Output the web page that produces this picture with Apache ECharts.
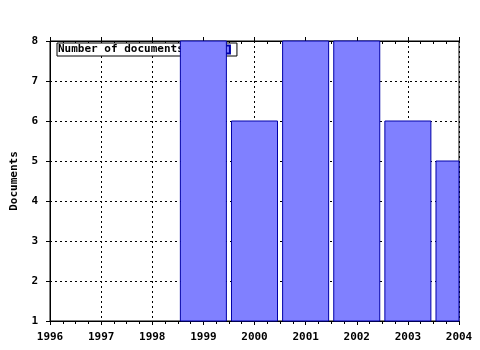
<!DOCTYPE html>
<html><head><meta charset="utf-8">
<script src="https://cdn.jsdelivr.net/npm/echarts@6/dist/echarts.min.js"></script>
<style>html,body{margin:0;padding:0;background:#fff}#c{width:480px;height:350px}</style>
</head><body><div id="c"></div>
<script>
const years = [1999, 2000, 2001, 2002, 2003, 2004];
const documents = [8, 6, 8, 8, 6, 5];
const seriesName = 'Number of documents';
const yAxisName = 'Documents';

const font = '"DejaVu Sans Mono", monospace';
const chart = echarts.init(document.getElementById('c'), null, {renderer: 'canvas'});
const grid = {left: 50, right: 21, top: 41, bottom: 29, show: true, borderColor: '#000', borderWidth: 1, backgroundColor: 'transparent', z: 0};
const dotted = {color: '#000', width: 1, type: [2, 3]};
const barFraction = 0.9;
chart.setOption({
  animation: false,
  grid: grid,
  legend: {
    data: [seriesName], left: 57, top: 43, z: 1, align: 'right', orient: 'horizontal',
    backgroundColor: '#fff', borderColor: '#000', borderWidth: 1, borderRadius: 0,
    padding: [1, 6, 1, 1], itemWidth: 8, itemHeight: 8, icon: 'rect',
    formatter: n => n + '     ',
    textStyle: {fontFamily: font, fontWeight: 'bold', fontSize: 11, color: '#000'},
    selectedMode: false
  },
  xAxis: [
    {type: 'value', position: 'bottom', min: 1996, max: 2004, interval: 1,
     axisLine: {show: true, lineStyle: {color: '#000'}},
     axisTick: {show: true, length: 4, lineStyle: {color: '#000'}},
     minorTick: {show: true, splitNumber: 4, length: 3, lineStyle: {color: '#000'}},
     splitLine: {show: true, lineStyle: dotted},
     axisLabel: {fontFamily: font, fontWeight: 'bold', fontSize: 11, color: '#000', margin: 11, formatter: v => String(v)}},
    {type: 'value', position: 'top', min: 1996, max: 2004, interval: 1,
     axisLine: {show: true, lineStyle: {color: '#000'}},
     axisTick: {show: true, length: 4, lineStyle: {color: '#000'}},
     splitLine: {show: false}, axisLabel: {show: false}},
    {type: 'value', position: 'top', min: 1996, max: 2004, interval: 1,
     axisLine: {show: false},
     axisTick: {show: false, inside: true},
     minorTick: {show: true, splitNumber: 4, length: 3, lineStyle: {color: '#000'}},
     splitLine: {show: false}, axisLabel: {show: false}}
  ],
  yAxis: [
    {type: 'value', position: 'left', min: 1, max: 8, interval: 1,
     name: yAxisName, nameLocation: 'middle', nameGap: 30, nameRotate: 90,
     nameTextStyle: {fontFamily: font, fontWeight: 'bold', fontSize: 11, color: '#000'},
     axisLine: {show: true, lineStyle: {color: '#000'}},
     axisTick: {show: true, length: 4, lineStyle: {color: '#000'}},
     splitLine: {show: true, lineStyle: dotted},
     axisLabel: {fontFamily: font, fontWeight: 'bold', fontSize: 11, color: '#000', margin: 12}}
  ],
  series: [{
    name: seriesName, type: 'custom', xAxisIndex: 0, yAxisIndex: 0, z: 2,
    data: years.map((y, i) => [y, documents[i]]),
    encode: {x: 0, y: 1},
    itemStyle: {color: '#8080ff', borderColor: '#0000a8', borderWidth: 1},
    renderItem: function (params, api) {
      const x = api.value(0), v = api.value(1);
      const top = api.coord([x, v]);
      const base = api.coord([x, 1]);
      const w = api.size([barFraction, 0])[0];
      const rect = echarts.graphic.clipRectByRect(
        {x: top[0] - w / 2, y: top[1], width: w, height: base[1] - top[1]},
        {x: params.coordSys.x, y: params.coordSys.y, width: params.coordSys.width, height: params.coordSys.height});
      if (!rect) return;
      return {type: 'rect', shape: rect,
        style: {fill: '#8080ff', stroke: '#0000a8', lineWidth: 1}};
    }
  }]
});
</script></body></html>
